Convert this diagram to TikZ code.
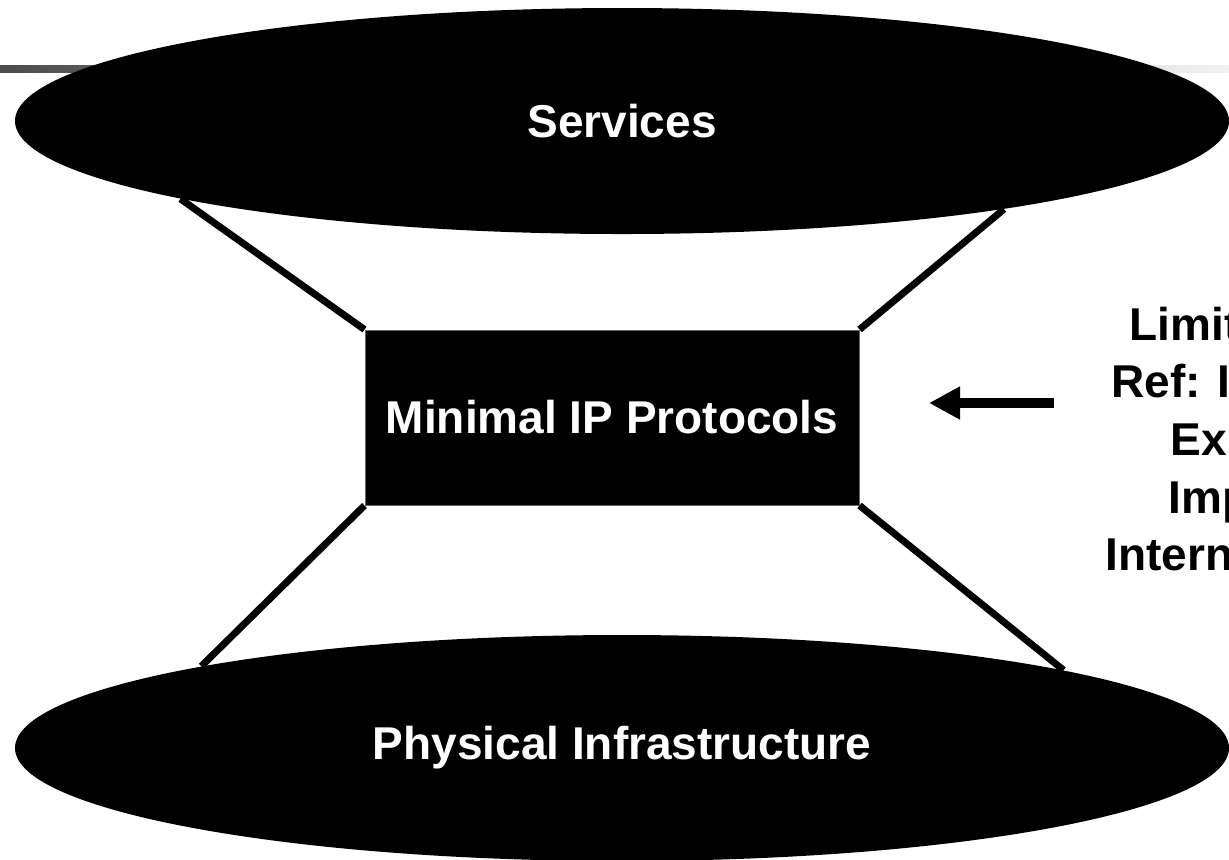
\documentclass[tikz,border=0pt]{standalone}
\usepackage{fontspec}
\setmainfont{Liberation Sans}
\usetikzlibrary{shapes.geometric,arrows.meta}

\tikzset{
    bigfont/.style={font=\fontsize{23}{28.5}\selectfont\bfseries},
    layer/.style={ellipse, fill=black, text=white, inner sep=0pt,
        minimum width=607pt, minimum height=113pt, bigfont},
    waist/.style={rectangle, fill=black, draw=black!60, line width=0.5pt,
        text=white, inner sep=0pt, minimum width=247pt, minimum height=87.5pt, bigfont},
    link/.style={line width=3.5pt},
    pointer/.style={line width=5pt, -{Triangle[length=15.5pt,width=15.5pt]}},
    note/.style={anchor=base west, inner sep=0pt, bigfont}
}

\begin{document}
\begin{tikzpicture}[x=0.5pt,y=-0.5pt]
        \useasboundingbox (0,0) rectangle (1229,859);
        \clip (0,0) rectangle (1229,859);
        % faded title rule behind the top layer
        \shade[left color=black!70, right color=black!5] (0,65) rectangle (1229,72);

        \node[layer] (Services) at (622,121) {Services};
        \node[layer] (Infrastructure) at (622,748) {Physical Infrastructure};
        \node[waist] (MinimalIP) at (612,417.5) {Minimal IP Protocols};

        \draw[link] (Services.190.7) -- (MinimalIP.north west);
        \draw[link] (Services.-13) -- (MinimalIP.north east);
        \draw[link] (Infrastructure.169.6) -- (MinimalIP.south west);
        \draw[link] (Infrastructure.10.5) -- (MinimalIP.south east);

        \coordinate (PointerStart) at (1054,403);
        \coordinate (PointerEnd) at (929,403);
        \draw[pointer] (PointerStart) -- (PointerEnd);

        \foreach \txt/\xpos/\ypos [count=\i] in {Limit/1129/340, Ref: I/1111/397,
                Ex/1170/455, Imp/1168/513, Intern/1105/570}
            \node[note] (Note\i) at (\xpos,\ypos) {\txt};
    \end{tikzpicture}
\end{document}
